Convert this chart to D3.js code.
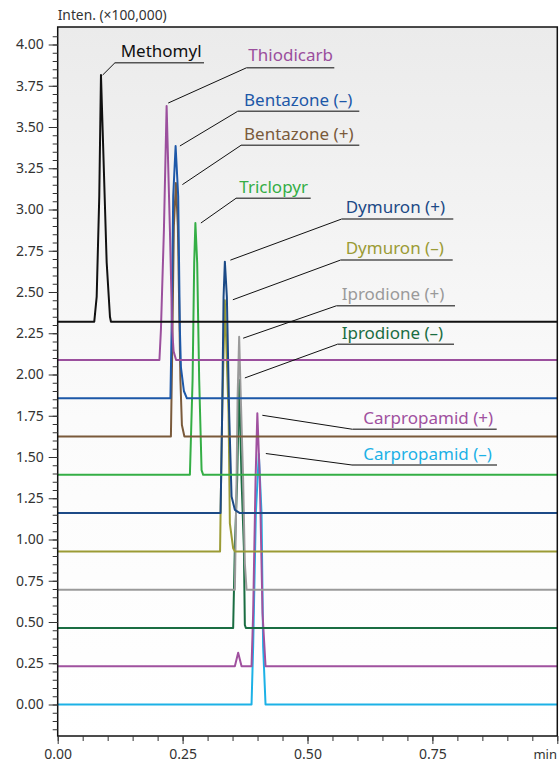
<!DOCTYPE html>
<html>
<head>
<meta charset="utf-8">
<script src="https://cdn.jsdelivr.net/npm/d3@7"></script>
<style>
  html, body { margin: 0; padding: 0; background: #fff; }
  svg { display: block; font-family: "Noto Sans", "Open Sans", sans-serif; }
</style>
</head>
<body>
<svg id="chart" width="560" height="763"></svg>
<script>
// ---------- DATA (time in min, intensity in ×100,000, as plotted with offsets) ----------
const seriesNames = [
  "Methomyl", "Thiodicarb", "Bentazone (–)", "Bentazone (+)", "Triclopyr",
  "Dymuron (+)", "Dymuron (–)", "Iprodione (+)", "Iprodione (–)",
  "Carpropamid (+)", "Carpropamid (–)"
];

const methomyl = [[0,2.32],[0.0732,2.32],[0.078,2.47],[0.0832,3.08],[0.0866,3.815],[0.09,3.48],[0.098,2.68],[0.1046,2.35],[0.1066,2.32],[1,2.32]];
const thiodicarb = [[0,2.088],[0.2036,2.088],[0.2066,2.27],[0.2126,2.876],[0.218,3.627],[0.2246,2.876],[0.2292,2.27],[0.232,2.14],[0.237,2.088],[1,2.088]];
const bentazoneNeg = [[0,1.856],[0.2256,1.856],[0.228,2.27],[0.2312,3.08],[0.236,3.385],[0.2412,3.08],[0.2446,2.27],[0.2466,2.045],[0.2526,1.9],[0.2586,1.856],[1,1.856]];
const bentazonePos = [[0,1.624],[0.2266,1.624],[0.229,2.1],[0.2325,2.9],[0.2366,3.16],[0.2405,2.9],[0.2456,1.97],[0.2486,1.694],[0.2536,1.624],[1,1.624]];
const triclopyr = [[0,1.392],[0.2646,1.392],[0.27,1.97],[0.2732,2.676],[0.2756,2.918],[0.2792,2.676],[0.2832,1.97],[0.288,1.42],[0.2912,1.392],[1,1.392]];
const dymuronPos = [[0,1.16],[0.326,1.16],[0.3292,1.765],[0.332,2.47],[0.3346,2.684],[0.3386,2.47],[0.3432,1.765],[0.348,1.26],[0.3546,1.18],[0.3646,1.16],[1,1.16]];
const dymuronNeg = [[0,0.928],[0.325,0.928],[0.3262,1.2],[0.3292,1.766],[0.3346,2.45],[0.342,1.766],[0.3446,1.098],[0.3512,0.947],[0.3546,0.928],[1,0.928]];
const iprodionePos = [[0,0.696],[0.3546,0.696],[0.358,1.36],[0.36,1.85],[0.3632,2.229],[0.3666,1.85],[0.3712,1.36],[0.3746,0.856],[0.378,0.696],[1,0.696]];
const iprodioneNeg = [[0,0.464],[0.3512,0.464],[0.3546,0.956],[0.3592,1.36],[0.3632,1.967],[0.368,1.36],[0.3726,0.956],[0.3746,0.482],[0.3766,0.464],[1,0.464]];
const carpropamidPos = [[0,0.232],[0.3546,0.232],[0.3612,0.314],[0.368,0.232],[0.388,0.232],[0.3912,0.553],[0.396,1.36],[0.3996,1.765],[0.4046,1.36],[0.41,0.553],[0.416,0.232],[1,0.232]];
const carpropamidNeg = [[0,0],[0.388,0],[0.3912,0.35],[0.3966,1.16],[0.4026,1.518],[0.408,1.16],[0.4112,0.35],[0.416,0],[1,0]];

const seriesData = [methomyl, thiodicarb, bentazoneNeg, bentazonePos, triclopyr,
  dymuronPos, dymuronNeg, iprodionePos, iprodioneNeg, carpropamidPos, carpropamidNeg];

const xMajorTicks = [0, 0.25, 0.5, 0.75, 1.0];
const xTickLabels = ["0.00", "0.25", "0.50", "0.75", ""];
const yMajorTicks = [0, 0.25, 0.5, 0.75, 1.0, 1.25, 1.5, 1.75, 2.0, 2.25, 2.5, 2.75, 3.0, 3.25, 3.5, 3.75, 4.0];
const yAxisTitle = "Inten. (×100,000)";
const xAxisTitle = "min";

// ---------- STYLE / LAYOUT ----------
const colors = ["#111111", "#9b4f9d", "#1d58a8", "#7a5a3b", "#34ae45",
  "#1c4a86", "#9b9b35", "#9a9a9a", "#1a6d42", "#a0519f", "#1cb1e6"];
// label layout: text x, text baseline y, underline x1, x2, y, leader dx from peak, dy
const labelLayout = [
  [120.7, 56.5, 115, 204, 62.7, 1.7, 0],
  [248.3, 61, 246.7, 334.3, 67.7, 1.6, -3],
  [244, 105.5, 237.7, 359.3, 111.3, 4.3, 0],
  [244, 139.5, 241, 359.3, 145.3, 6.5, 1.5],
  [239.3, 193, 236, 310.7, 198.3, 5.5, 0],
  [345.7, 212.5, 341.7, 453.3, 219, 5.5, -1.5],
  [345.7, 253.5, 340.7, 452.7, 260, 8, -0.5],
  [341.7, 299.5, 336.7, 455, 305.7, 4, 1.5],
  [341.7, 338.5, 337.3, 454, 344.3, 5.7, -2],
  [363.3, 423.5, 352.7, 496.7, 429.3, 5, 2],
  [363.3, 459.5, 352, 497, 465, 7, -0.5]
];

const plotLeft = 57.7, plotRight = 557.3, plotTop = 27, plotBottom = 736;

const svg = d3.select("#chart");
const x = d3.scaleLinear().domain([0, 1]).range([plotLeft, plotRight]);
const y = d3.scaleLinear().domain([0, 4]).range([704.5, 44.5]);

// background gradient
const defs = svg.append("defs");
const grad = defs.append("linearGradient").attr("id", "bg").attr("x1", 0).attr("y1", 0).attr("x2", 0).attr("y2", 1);
grad.append("stop").attr("offset", "0%").attr("stop-color", "#ebebeb");
grad.append("stop").attr("offset", "55%").attr("stop-color", "#fbfbfb");
grad.append("stop").attr("offset", "100%").attr("stop-color", "#ffffff");
defs.append("clipPath").attr("id", "clip").append("rect")
  .attr("x", plotLeft).attr("y", plotTop).attr("width", plotRight - plotLeft).attr("height", plotBottom - plotTop);

svg.append("rect").attr("x", plotLeft).attr("y", plotTop)
  .attr("width", plotRight - plotLeft).attr("height", plotBottom - plotTop)
  .attr("fill", "url(#bg)");

// traces: draw bottom trace first so upper baselines sit on top
const line = d3.line().x(d => x(d[0])).y(d => y(d[1]));
const gTraces = svg.append("g").attr("clip-path", "url(#clip)");
for (let i = seriesData.length - 1; i >= 0; i--) {
  gTraces.append("path").datum(seriesData[i])
    .attr("d", line).attr("fill", "none")
    .attr("stroke", colors[i]).attr("stroke-width", 2)
    .attr("stroke-linejoin", "round");
}

// labels
const gLab = svg.append("g");
seriesNames.forEach((name, i) => {
  const L = labelLayout[i];
  const peak = seriesData[i].reduce((a, b) => (b[1] > a[1] ? b : a));
  const tipX = x(peak[0]) + L[5], tipY = y(peak[1]) + L[6];
  gLab.append("line").attr("x1", tipX).attr("y1", tipY).attr("x2", L[2]).attr("y2", L[4])
    .attr("stroke", "#111").attr("stroke-width", 1);
  gLab.append("line").attr("x1", L[2]).attr("y1", L[4]).attr("x2", L[3]).attr("y2", L[4])
    .attr("stroke", "#555").attr("stroke-width", 1.5);
  gLab.append("text").attr("x", L[0]).attr("y", L[1]).text(name)
    .attr("fill", colors[i] === "#111111" ? "#111" : colors[i])
    .attr("font-size", 17);
});

// frame
svg.append("rect").attr("x", plotLeft).attr("y", plotTop)
  .attr("width", plotRight - plotLeft).attr("height", plotBottom - plotTop)
  .attr("fill", "none").attr("stroke", "#111").attr("stroke-width", 1.5);

// y axis
const yMinor = d3.range(-3, 83).map(k => k * 0.05).filter(v => y(v) <= plotBottom - 2 && y(v) >= plotTop + 2);
const yMinorAxis = d3.axisLeft(y).tickValues(yMinor).tickSize(5).tickFormat("");
const yMajorAxis = d3.axisLeft(y).tickValues(yMajorTicks).tickSize(9).tickPadding(5).tickFormat(d3.format(".2f"));
const gy1 = svg.append("g").attr("transform", `translate(${plotLeft},0)`).call(yMinorAxis);
const gy2 = svg.append("g").attr("transform", `translate(${plotLeft},0)`).call(yMajorAxis);
[gy1, gy2].forEach(g => {
  g.select(".domain").remove();
  g.selectAll("line").attr("stroke", "#333");
  g.selectAll("text").attr("fill", "#333").attr("font-size", 14)
    .attr("font-family", "'Noto Sans', 'Open Sans', sans-serif");
});

// x axis
const xMinor = d3.range(0, 21).map(k => k * 0.05);
const xMinorAxis = d3.axisBottom(x).tickValues(xMinor).tickSize(5).tickFormat("");
const xMajorAxis = d3.axisBottom(x).tickValues(xMajorTicks).tickSize(8).tickPadding(5)
  .tickFormat((d, i) => xTickLabels[i]);
const gx1 = svg.append("g").attr("transform", `translate(0,${plotBottom})`).call(xMinorAxis);
const gx2 = svg.append("g").attr("transform", `translate(0,${plotBottom})`).call(xMajorAxis);
[gx1, gx2].forEach(g => {
  g.select(".domain").remove();
  g.selectAll("line").attr("stroke", "#333");
  g.selectAll("text").attr("fill", "#333").attr("font-size", 14)
    .attr("font-family", "'Noto Sans', 'Open Sans', sans-serif");
});

// axis titles
svg.append("text").attr("x", 57.7).attr("y", 20).text(yAxisTitle)
  .attr("fill", "#333").attr("font-size", 13.8);
svg.append("text").attr("x", 557).attr("y", 759).attr("text-anchor", "end").text(xAxisTitle)
  .attr("fill", "#333").attr("font-size", 13);
</script>
</body>
</html>
